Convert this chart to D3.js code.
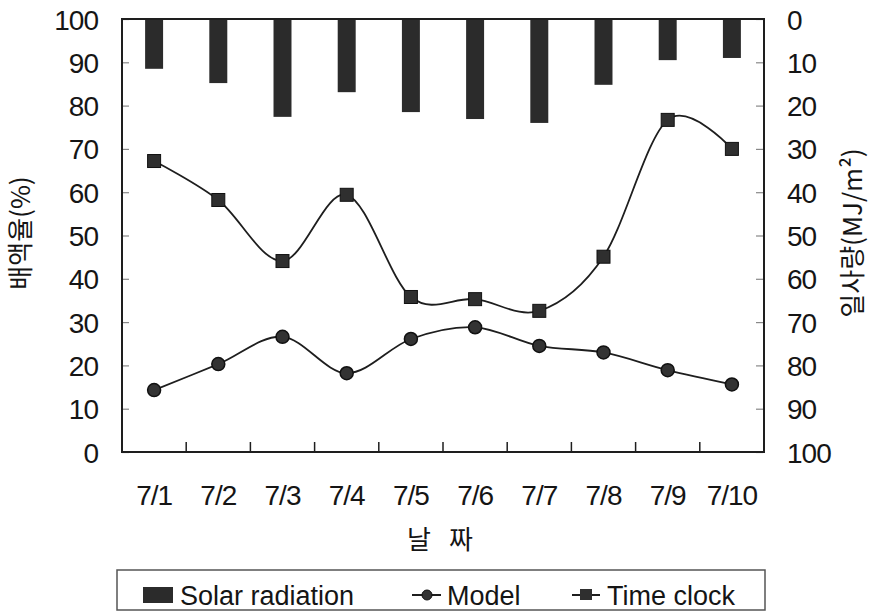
<!DOCTYPE html>
<html>
<head>
<meta charset="utf-8">
<script src="https://cdn.jsdelivr.net/npm/d3@7"></script>
<style>
  body { margin: 0; background: #fff; }
  text { font-family: "Liberation Sans", Arial, sans-serif; fill: #151515; }
  .kr { font-family: "Noto Sans CJK KR", "Liberation Sans", sans-serif; }
</style>
</head>
<body>
<svg id="chart" width="871" height="613"></svg>
<script>
// Daily drainage rate (%) for two irrigation controls, with daily solar radiation (MJ/m²)
const dates = ["7/1", "7/2", "7/3", "7/4", "7/5", "7/6", "7/7", "7/8", "7/9", "7/10"];
const solarRadiation = [11.5, 14.8, 22.6, 16.9, 21.5, 23.1, 24.0, 15.2, 9.5, 9.0];
const modelRate = [14.3, 20.3, 26.6, 18.2, 26.1, 28.8, 24.5, 23.0, 18.9, 15.6];
const timeClockRate = [67.2, 58.2, 44.1, 59.4, 35.8, 35.3, 32.6, 45.1, 76.7, 70.0];
const leftTicks = [0, 10, 20, 30, 40, 50, 60, 70, 80, 90, 100];
const rightTicks = [0, 10, 20, 30, 40, 50, 60, 70, 80, 90, 100];
const legendLabels = ["Solar radiation", "Model", "Time clock"];

const svg = d3.select("#chart");
const plot = { left: 122, right: 764, top: 19, bottom: 452 };
const ink = "#1e1e1e";

const x = d3.scaleBand()
  .domain(dates)
  .range([plot.left, plot.right])
  .paddingInner(0.72)
  .paddingOuter(0.36);
const cx = d => x(d) + x.bandwidth() / 2;

const yLeft = d3.scaleLinear().domain([0, 100]).range([plot.bottom, plot.top]);
const yRight = d3.scaleLinear().domain([0, 100]).range([plot.top, plot.bottom]);

// Solar radiation bars hang from the top (reversed right axis)
svg.append("g").selectAll("rect")
  .data(dates)
  .join("rect")
  .attr("x", d => x(d))
  .attr("width", x.bandwidth())
  .attr("y", yRight(0))
  .attr("height", (d, i) => yRight(solarRadiation[i]) - yRight(0))
  .attr("fill", "#2b2b2b");

// Left axis
const gLeft = svg.append("g")
  .attr("transform", `translate(${plot.left},0)`)
  .call(d3.axisLeft(yLeft).tickValues(leftTicks).tickSizeInner(-7).tickSizeOuter(0).tickPadding(24));
gLeft.select(".domain").remove();
gLeft.selectAll("line").attr("stroke", "#888").attr("stroke-width", 1.2);
gLeft.selectAll("text").attr("font-size", 28).attr("letter-spacing", -1)
  .attr("dy", "0.36em").attr("fill", "#151515");

// Right axis
const gRight = svg.append("g")
  .attr("transform", `translate(${plot.right},0)`)
  .call(d3.axisRight(yRight).tickValues(rightTicks).tickSizeInner(-8).tickSizeOuter(0).tickPadding(23));
gRight.select(".domain").remove();
gRight.selectAll("line").attr("stroke", "#888").attr("stroke-width", 1.2);
gRight.selectAll("text").attr("font-size", 28).attr("letter-spacing", -1)
  .attr("dy", "0.36em").attr("fill", "#151515");

// Category boundary ticks along the bottom
const boundaries = dates.slice(1).map(d => x(d) - x.step() * x.paddingInner() / 2);
svg.append("g").selectAll("line")
  .data(boundaries)
  .join("line")
  .attr("x1", d => d).attr("x2", d => d)
  .attr("y1", plot.bottom).attr("y2", plot.bottom - 10)
  .attr("stroke", ink).attr("stroke-width", 1.5);

// Date labels
svg.append("g").selectAll("text")
  .data(dates)
  .join("text")
  .attr("x", d => cx(d))
  .attr("y", 505)
  .attr("text-anchor", "middle")
  .attr("font-size", 28)
  .attr("letter-spacing", -1)
  .text(d => d);

// Plot frame
svg.append("rect")
  .attr("x", plot.left).attr("y", plot.top)
  .attr("width", plot.right - plot.left).attr("height", plot.bottom - plot.top)
  .attr("fill", "none").attr("stroke", ink).attr("stroke-width", 2);

// Smoothed series lines
const line = values => d3.line()
  .x((v, i) => cx(dates[i]))
  .y(v => yLeft(v))
  .curve(d3.curveCatmullRom.alpha(0))(values);

svg.append("path").attr("d", line(timeClockRate))
  .attr("fill", "none").attr("stroke", ink).attr("stroke-width", 1.8);
svg.append("path").attr("d", line(modelRate))
  .attr("fill", "none").attr("stroke", ink).attr("stroke-width", 1.8);

// Markers
const sq = 13;
svg.append("g").selectAll("rect")
  .data(timeClockRate)
  .join("rect")
  .attr("x", (v, i) => cx(dates[i]) - sq / 2)
  .attr("y", v => yLeft(v) - sq / 2)
  .attr("width", sq).attr("height", sq)
  .attr("fill", "#2f2f2f").attr("stroke", "#111").attr("stroke-width", 1);

svg.append("g").selectAll("circle")
  .data(modelRate)
  .join("circle")
  .attr("cx", (v, i) => cx(dates[i]))
  .attr("cy", v => yLeft(v))
  .attr("r", 6.5)
  .attr("fill", "#333").attr("stroke", "#111").attr("stroke-width", 1.5);

// Axis titles
svg.append("text").attr("class", "kr")
  .attr("transform", "translate(30,233) rotate(-90)")
  .attr("text-anchor", "middle")
  .attr("font-size", 26)
  .text("배액율(%)");

svg.append("text").attr("class", "kr")
  .attr("transform", "translate(862,233) rotate(-90)")
  .attr("text-anchor", "middle")
  .attr("font-size", 26)
  .text("일사량(MJ/m²)");

svg.append("text").attr("class", "kr")
  .attr("x", 407).attr("y", 549)
  .attr("font-size", 26)
  .attr("letter-spacing", 18)
  .text("날짜");

// Legend
const lg = svg.append("g");
lg.append("rect")
  .attr("x", 117).attr("y", 570).attr("width", 648).attr("height", 40)
  .attr("fill", "none").attr("stroke", "#555").attr("stroke-width", 1.5);

lg.append("rect").attr("x", 143).attr("y", 587).attr("width", 30).attr("height", 16).attr("fill", "#2b2b2b");
lg.append("text").attr("x", 180).attr("y", 605).attr("font-size", 27).text(legendLabels[0]);

lg.append("line").attr("x1", 412).attr("x2", 441).attr("y1", 595).attr("y2", 595).attr("stroke", ink).attr("stroke-width", 2);
lg.append("circle").attr("cx", 427).attr("cy", 595).attr("r", 5).attr("fill", "#333").attr("stroke", "#111");
lg.append("text").attr("x", 447).attr("y", 605).attr("font-size", 27).text(legendLabels[1]);

lg.append("line").attr("x1", 572).attr("x2", 600).attr("y1", 595).attr("y2", 595).attr("stroke", ink).attr("stroke-width", 2);
lg.append("rect").attr("x", 580).attr("y", 589).attr("width", 12).attr("height", 11).attr("fill", "#2f2f2f");
lg.append("text").attr("x", 607).attr("y", 605).attr("font-size", 27).text(legendLabels[2]);
</script>
</body>
</html>
